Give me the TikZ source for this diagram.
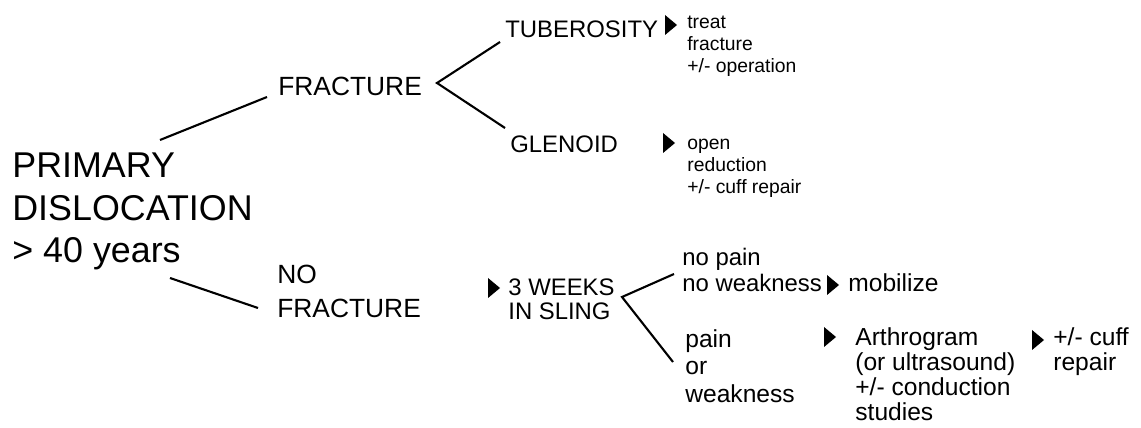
\documentclass[tikz,border=0pt]{standalone}
\usepackage{fontspec}
\setmainfont{Liberation Sans}
\usetikzlibrary{calc}
\tikzset{
	lbl/.style={anchor=base west, inner sep=0pt, align=left},
	huge/.style={lbl, font=\fontsize{20.4}{24.4}\selectfont},
	large/.style={lbl, font=\fontsize{15}{19.3}\selectfont},
	medium/.style={lbl, font=\fontsize{13.6}{14.2}\selectfont},
	normal/.style={lbl, font=\fontsize{14}{14.2}\selectfont},
	tiny/.style={lbl, font=\fontsize{11}{12.8}\selectfont},
	branch/.style={line width=1.2pt}
}
\def\marker(#1){\fill ($(#1)+(-5,-10)$) -- ($(#1)+(7,0)$) -- ($(#1)+(-5,10)$) -- cycle;}

\begin{document}
\begin{tikzpicture}[x=0.02cm, y=-0.02cm]
		%%%%% START %%%%%
		\useasboundingbox (0, 0) rectangle (1141, 428);
		
		% multi-line nodes sit on the baseline of their last line
		\node[huge] (prim) at (12, 263) {PRIMARY\\DISLOCATION\\> 40 years};
		
		\node[large] (frac) at (278, 96) {FRACTURE};
		\node[large] (nofrac) at (277, 317) {NO\\FRACTURE};
		
		\coordinate (p1) at (160, 140);
		\coordinate (p2) at (267, 97);
		\coordinate (p3) at (170, 278);
		\coordinate (p4) at (258, 308);
		\draw[branch] (p1) -- (p2);
		\draw[branch] (p3) -- (p4);
		
		% fracture
		\node[medium] (tub) at (505, 38) {TUBEROSITY};
		\node[medium] (glen) at (510, 153) {GLENOID};
		\coordinate (f0) at (437, 83);
		\coordinate (f1) at (500, 42);
		\coordinate (f2) at (505, 128);
		\draw[branch] (f1) -- (f0) -- (f2);
		
		\coordinate (m1) at (670, 25);
		\marker(m1);
		\node[tiny] (treat) at (687, 73) {treat\\fracture\\+/- operation};
		\coordinate (m2) at (668, 143);
		\marker(m2);
		\node[tiny] (open) at (687, 194) {open\\reduction\\+/- cuff repair};
		
		% no fracture
		\coordinate (m3) at (493, 288);
		\marker(m3);
		\node[medium] (sling) at (508, 320) {3 WEEKS\\IN SLING};
		\coordinate (s0) at (622, 297);
		\coordinate (s1) at (674, 274);
		\coordinate (s2) at (673, 362);
		\draw[branch] (s1) -- (s0) -- (s2);
		
		\node[normal, font=\fontsize{13.6}{15.3}\selectfont] (nopain) at (682, 292) {no pain\\no weakness};
		\coordinate (m4) at (832, 285);
		\marker(m4);
		\node[normal] (mob) at (848, 292) {mobilize};
		
		\node[normal, font=\fontsize{14}{15.6}\selectfont] (pain) at (685, 402) {pain\\or\\weakness};
		\coordinate (m5) at (829, 337);
		\marker(m5);
		\node[normal] (arthro) at (855, 420) {Arthrogram\\(or ultrasound)\\+/- conduction\\studies};
		\coordinate (m6) at (1037, 340);
		\marker(m6);
		\node[normal] (cuff) at (1053, 370) {+/- cuff\\repair};
		%%%%% END %%%%%
	\end{tikzpicture}
\end{document}
